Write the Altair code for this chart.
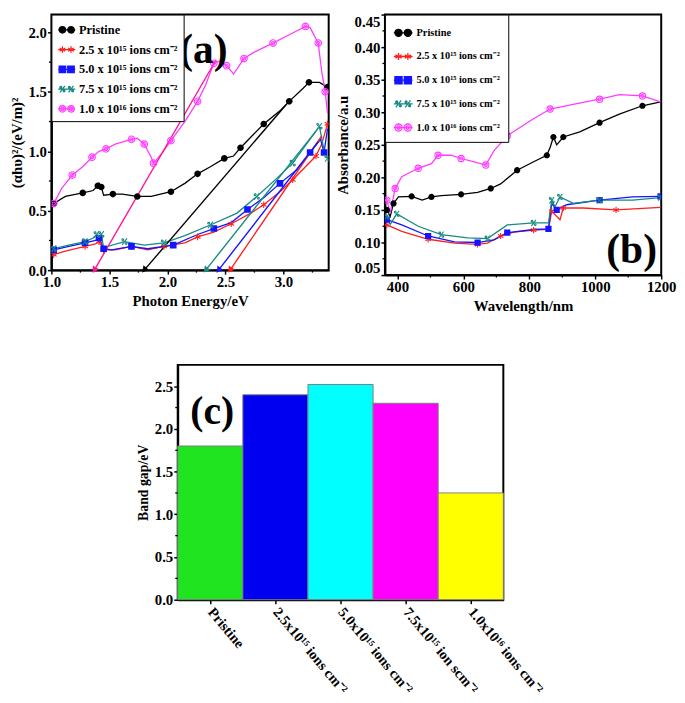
import math
import altair as alt
import pandas as pd

FONT = "Liberation Serif"

SERIES = ["Pristine", "2.5 x 10¹⁵ ions cm⁻²", "5.0 x 10¹⁵ ions cm⁻²",
          "7.5 x 10¹⁵ ions cm⁻²", "1.0 x 10¹⁶ ions cm⁻²"]
COLORS = ["#000000", "#ff1f1f", "#1414ff", "#178a82", "#ff3cff"]
FILLS = ["#000000", "#ff1f1f", "#1414ff", "#178a82", "transparent"]

# ---------------- panel (a): Tauc plot ----------------
a_pr_x = [1.02, 1.12, 1.27, 1.36, 1.40, 1.41, 1.43, 1.45, 1.53, 1.61, 1.74, 1.86, 2.03, 2.15,
          2.26, 2.37, 2.49, 2.57, 2.63, 2.72, 2.83, 2.97, 3.05, 3.17, 3.22, 3.31, 3.38]
a_pr_y = [0.56, 0.62, 0.65, 0.67, 0.71, 0.73, 0.70, 0.63, 0.64, 0.64, 0.62, 0.62, 0.66, 0.73,
          0.81, 0.87, 0.94, 0.96, 1.03, 1.12, 1.23, 1.34, 1.42, 1.53, 1.58, 1.58, 1.54]
a_r_x = [1.02, 1.12, 1.29, 1.38, 1.41, 1.43, 1.45, 1.55, 1.69, 1.83, 1.97, 2.15, 2.26, 2.40,
         2.55, 2.72, 2.83, 2.97, 3.08, 3.19, 3.28, 3.33, 3.38]
a_r_y = [0.13, 0.16, 0.20, 0.22, 0.24, 0.21, 0.17, 0.17, 0.20, 0.17, 0.20, 0.23, 0.28, 0.32,
         0.39, 0.48, 0.55, 0.66, 0.76, 0.87, 0.96, 1.06, 1.23]
a_b_x = [1.02, 1.15, 1.29, 1.38, 1.41, 1.43, 1.45, 1.52, 1.69, 1.83, 2.05, 2.26, 2.40, 2.55,
         2.69, 2.83, 2.97, 3.11, 3.23, 3.32, 3.35, 3.38]
a_b_y = [0.17, 0.20, 0.23, 0.25, 0.27, 0.23, 0.18, 0.17, 0.20, 0.18, 0.21, 0.30, 0.35, 0.40,
         0.51, 0.61, 0.73, 0.84, 0.99, 1.10, 0.99, 1.19]
a_t_x = [1.02, 1.15, 1.29, 1.36, 1.39, 1.41, 1.43, 1.45, 1.63, 1.80, 1.97, 2.15, 2.37, 2.60,
         2.77, 2.94, 3.08, 3.22, 3.31, 3.35, 3.38]
a_t_y = [0.18, 0.21, 0.24, 0.27, 0.30, 0.27, 0.30, 0.19, 0.24, 0.21, 0.23, 0.29, 0.38, 0.48,
         0.62, 0.77, 0.90, 1.09, 1.21, 1.01, 0.94]
a_m_x = [1.02, 1.09, 1.18, 1.27, 1.35, 1.41, 1.47, 1.55, 1.69, 1.74, 1.80, 1.86, 1.88, 1.95,
         2.03, 2.15, 2.26, 2.33, 2.40, 2.45, 2.51, 2.57, 2.66, 2.74, 2.91, 3.05, 3.19, 3.23,
         3.30, 3.33, 3.36, 3.38]
a_m_y = [0.56, 0.69, 0.80, 0.87, 0.95, 1.00, 1.02, 1.06, 1.10, 1.11, 1.06, 0.95, 0.90, 0.98,
         1.09, 1.25, 1.42, 1.56, 1.74, 1.76, 1.72, 1.65, 1.78, 1.83, 1.91, 1.98, 2.05, 2.04,
         1.91, 1.67, 1.50, 1.32]

# tangent (extrapolation) lines: upper point and x-intercept
tan_top_x = [3.03, 3.33, 3.30, 3.28, 2.42]
tan_top_y = [1.40, 1.13, 1.08, 1.17, 1.77]
tan_int_x = [1.80, 2.54, 2.44, 2.33, 1.37]

a_major_x = [1.0, 1.5, 2.0, 2.5, 3.0]
a_major_y = [0.0, 0.5, 1.0, 1.5, 2.0]
a_minor_x = [1.25, 1.75, 2.25, 2.75, 3.25]
a_minor_y = [0.25, 0.75, 1.25, 1.75]

# ---------------- panel (b): absorbance ----------------
b_pr_x = [368, 378, 388, 403, 443, 475, 503, 533, 593, 643, 683, 713, 763, 813, 853, 863, 873,
          883, 903, 953, 1013, 1073, 1143, 1198]
b_pr_y = [0.150, 0.140, 0.160, 0.170, 0.171, 0.165, 0.170, 0.172, 0.174, 0.177, 0.183, 0.190,
          0.211, 0.224, 0.234, 0.246, 0.262, 0.250, 0.262, 0.270, 0.284, 0.297, 0.310, 0.316]
b_r_x = [368, 413, 493, 573, 643, 673, 713, 753, 813, 858, 868, 893, 903, 963, 1063, 1198]
b_r_y = [0.127, 0.117, 0.105, 0.099, 0.097, 0.099, 0.110, 0.116, 0.119, 0.120, 0.148, 0.135,
         0.153, 0.153, 0.150, 0.154]
b_b_x = [368, 413, 493, 573, 643, 693, 733, 813, 858, 868, 883, 913, 1013, 1113, 1198]
b_b_y = [0.135, 0.127, 0.110, 0.101, 0.100, 0.104, 0.115, 0.120, 0.121, 0.160, 0.150, 0.158,
         0.165, 0.170, 0.171]
b_t_x = [368, 378, 398, 463, 533, 613, 673, 733, 813, 858, 868, 878, 893, 933, 1013, 1113, 1198]
b_t_y = [0.140, 0.128, 0.144, 0.125, 0.112, 0.107, 0.106, 0.127, 0.130, 0.130, 0.165, 0.155,
         0.170, 0.160, 0.165, 0.165, 0.169]
b_m_x = [368, 378, 393, 413, 463, 503, 523, 563, 593, 633, 668, 693, 733, 803, 863, 933, 1013,
         1073, 1143, 1198]
b_m_y = [0.165, 0.145, 0.183, 0.201, 0.214, 0.221, 0.234, 0.234, 0.229, 0.224, 0.219, 0.241,
         0.264, 0.287, 0.305, 0.312, 0.320, 0.327, 0.325, 0.316]

b_major_x = [400, 600, 800, 1000, 1200]
b_major_y = [0.05, 0.10, 0.15, 0.20, 0.25, 0.30, 0.35, 0.40, 0.45]
b_minor_x = [500, 700, 900, 1100]
b_minor_y = [0.075, 0.125, 0.175, 0.225, 0.275, 0.325, 0.375, 0.425]

# ---------------- panel (c): band gaps ----------------
c_labels = ["Pristine", "2.5x10¹⁵ ions cm⁻²", "5.0x10¹⁵ ions cm⁻²",
            "7.5x10¹⁵ ion scm⁻²", "1.0x10¹⁶ ions cm⁻²"]
c_values = [1.80, 2.40, 2.52, 2.30, 1.25]
c_colors = ["#1fe41f", "#0000f0", "#00ffff", "#ff00ff", "#ffff00"]
c_major_y = [0.0, 0.5, 1.0, 1.5, 2.0, 2.5]
c_minor_y = [0.25, 0.75, 1.25, 1.75, 2.25]


# ---------------- marker shapes ----------------
def circ(cx, cy, r):
    return (f"M{cx - r:.3f},{cy:.3f}a{r:.3f},{r:.3f} 0 1,0 {2 * r:.3f},0"
            f"a{r:.3f},{r:.3f} 0 1,0 {-2 * r:.3f},0")


def m_circle(cx, r):
    return circ(cx, 0, r)


def m_star(cx, r):
    return (f"M{cx:.3f},{-r:.3f}L{cx:.3f},{r:.3f}"
            f"M{cx - 0.87 * r:.3f},{-0.5 * r:.3f}L{cx + 0.87 * r:.3f},{0.5 * r:.3f}"
            f"M{cx - 0.87 * r:.3f},{0.5 * r:.3f}L{cx + 0.87 * r:.3f},{-0.5 * r:.3f}")


def m_square(cx, r):
    return f"M{cx - r:.3f},{-r:.3f}h{2 * r:.3f}v{2 * r:.3f}h{-2 * r:.3f}Z"


def m_pct(cx, r):
    return (f"M{cx + 0.75 * r:.3f},{-r:.3f}L{cx - 0.75 * r:.3f},{r:.3f}"
            + circ(cx - 0.5 * r, -0.55 * r, 0.28 * r) + circ(cx + 0.5 * r, 0.55 * r, 0.28 * r))


def m_dcirc(cx, r):
    return circ(cx, 0, r) + circ(cx, 0, 0.5 * r)


MARKERS = [m_circle, m_star, m_square, m_pct, m_dcirc]
MK_FILLED = [True, False, True, False, False]
LEG_PATHS = ["M-1,0L1,0" + f(-0.5, 0.38) + f(0.5, 0.38) for f in MARKERS]
MINOR_LEN = 2.5


def curves_df(xs_list, ys_list):
    rows = []
    for s, xs, ys in zip(SERIES, xs_list, ys_list):
        for i, (x, y) in enumerate(zip(xs, ys)):
            rows.append({"series": s, "x": x, "y": y, "idx": i})
    return pd.DataFrame(rows)


def minor_layers(xvals, yvals, X, Y, H):
    out = []
    if xvals:
        out.append(alt.Chart(pd.DataFrame({"x": xvals})).mark_rule(
            color="black", strokeWidth=1.3).encode(
            x=X(), y=alt.value(H), y2=alt.value(H + MINOR_LEN)))
    if yvals:
        out.append(alt.Chart(pd.DataFrame({"y": yvals})).mark_rule(
            color="black", strokeWidth=1.3).encode(
            y=Y(), x=alt.value(0), x2=alt.value(-MINOR_LEN)))
    return out


def build_panel(df, xdom, ydom, W, H, xaxis, yaxis, legend, tag, tag_pos, tag_size,
                minors, tangents=None, mk_size=45):
    xs = alt.Scale(domain=xdom, nice=False, zero=False)
    ys = alt.Scale(domain=ydom, nice=False, zero=False)

    def X():
        return alt.X("x:Q", scale=xs, axis=xaxis)

    def Y():
        return alt.Y("y:Q", scale=ys, axis=yaxis)

    layers = []
    for k, s in enumerate(SERIES):
        sub = alt.Chart(df).transform_filter(alt.datum.series == s)
        layers.append(sub.mark_line(color=COLORS[k], strokeWidth=1.3, clip=True).encode(
            x=X(), y=Y(), order="idx:Q"))
    if tangents is not None:
        kx = W / (xdom[1] - xdom[0])
        ky = H / (ydom[1] - ydom[0])
        trows, hrows = [], []
        for k, s in enumerate(SERIES):
            xt, yt, xi = tangents[0][k], tangents[1][k], tangents[2][k]
            trows.append({"series": s, "x": xt, "y": yt, "o": 0})
            trows.append({"series": s, "x": xi, "y": 0.0, "o": 1})
            dx = (xi - xt) * kx
            dy = yt * ky
            ang = math.degrees(math.atan2(dx, -dy)) % 360
            hrows.append({"series": s, "x": xi, "y": 0.0, "ang": ang})
        tdf = pd.DataFrame(trows)
        hdf = pd.DataFrame(hrows)
        tcol = ["#000000", "#ff1f1f", "#1414ff", "#178a82", "#ff1493"]
        for k, s in enumerate(SERIES):
            layers.append(alt.Chart(tdf).transform_filter(alt.datum.series == s)
                          .mark_line(color=tcol[k], strokeWidth=1.4).encode(
                x=X(), y=Y(), order="o:Q"))
            layers.append(alt.Chart(hdf).transform_filter(alt.datum.series == s)
                          .mark_point(shape="triangle-up", filled=True, color=tcol[k], size=55,
                                      opacity=1).encode(
                x=X(), y=Y(), angle=alt.Angle("ang:Q", scale=None)))
    for k, s in enumerate(SERIES):
        sub = alt.Chart(df).transform_filter(
            (alt.datum.series == s) & (alt.datum.idx % 2 == 0))
        layers.append(sub.mark_point(shape=MARKERS[k](0, 1), filled=MK_FILLED[k],
                                     color=COLORS[k], size=mk_size, strokeWidth=1.1,
                                     opacity=1, clip=True).encode(x=X(), y=Y()))
    layers += minor_layers(minors[0], minors[1], X, Y, H)
    # legend carrier (no rows drawn; legend from explicit scale domains)
    leg = alt.Chart(df).transform_filter("false").mark_point(
        filled=True, strokeWidth=1.3, size=legend["size"], opacity=1).encode(
        x=X(), y=Y(),
        shape=alt.Shape("series:N", scale=alt.Scale(domain=SERIES, range=LEG_PATHS),
                        legend=legend["obj"]),
        stroke=alt.Stroke("series:N", scale=alt.Scale(domain=SERIES, range=COLORS),
                          legend=legend["obj"]),
        fill=alt.Fill("series:N", scale=alt.Scale(domain=SERIES, range=FILLS),
                      legend=legend["obj"]))
    layers.append(leg)
    txt = alt.Chart(pd.DataFrame({"t": [tag]})).mark_text(
        font=FONT, fontWeight="bold", fontSize=tag_size, color="black",
        align="center", baseline="middle").encode(
        text="t:N", x=alt.value(tag_pos[0]), y=alt.value(tag_pos[1]))
    layers.append(txt)
    return alt.layer(*layers).properties(width=W, height=H)


def mk_legend(font_size, row_pad, size, pad):
    return {"size": size, "obj": alt.Legend(
        title=None, orient="top-left", offset=0, padding=pad, strokeColor="black",
        fillColor="white", labelFont=FONT, labelFontWeight="bold", labelFontSize=font_size,
        labelColor="black", rowPadding=row_pad, labelOffset=3, symbolStrokeWidth=1.3,
        symbolOpacity=1, symbolSize=size)}


df_a = curves_df([a_pr_x, a_r_x, a_b_x, a_t_x, a_m_x], [a_pr_y, a_r_y, a_b_y, a_t_y, a_m_y])
df_b = curves_df([b_pr_x, b_r_x, b_b_x, b_t_x, b_m_x], [b_pr_y, b_r_y, b_b_y, b_t_y, b_m_y])

pa = build_panel(
    df_a, [1.0, 3.39], [0.0, 2.15], 281, 259,
    alt.Axis(title="Photon Energy/eV", values=a_major_x, format=".1f"),
    alt.Axis(title="(αhυ)²/(eV/m)²", values=a_major_y, format=".1f"),
    mk_legend(12.5, 4, 300, 6), "(a)", (154, 36), 42, (a_minor_x, a_minor_y),
    tangents=(tan_top_x, tan_top_y, tan_int_x))

pb = build_panel(
    df_b, [362, 1200], [0.05, 0.45], 280, 264,
    alt.Axis(title="Wavelength/nm", values=b_major_x, format="d"),
    alt.Axis(title="Absorbance/a.u", values=b_major_y, format=".2f", labelOverlap=False,
             labelSeparation=0, labelFlush=True),
    mk_legend(10.5, 7, 360, 8), "(b)", (250, 239), 42, (b_minor_x, b_minor_y), mk_size=40)

df_c = pd.DataFrame({"label": c_labels, "gap": c_values, "color": c_colors})
c_yaxis = alt.Axis(title="Band gap/eV", values=c_major_y, format=".1f", titleFontSize=14)
c_ys = alt.Scale(domain=[0, 2.75], nice=False)
pc_bars = alt.Chart(df_c).mark_bar(stroke="#808080", strokeWidth=1).encode(
    x=alt.X("label:N", sort=c_labels, scale=alt.Scale(paddingInner=0, paddingOuter=0),
            axis=alt.Axis(title=None, labelAngle=50, labelAlign="left", labelBaseline="middle",
                          labelFontSize=14.5, labelPadding=6, tickSize=4)),
    y=alt.Y("gap:Q", scale=c_ys, axis=c_yaxis),
    color=alt.Color("color:N", scale=None),
)
pc_minor = alt.Chart(pd.DataFrame({"gap": c_minor_y})).mark_rule(
    color="black", strokeWidth=1.3).encode(
    y=alt.Y("gap:Q", scale=c_ys, axis=c_yaxis), x=alt.value(0), x2=alt.value(-MINOR_LEN))
pc_tag = alt.Chart(pd.DataFrame({"t": ["(c)"]})).mark_text(
    font=FONT, fontWeight="bold", fontSize=40, color="black", align="center",
    baseline="middle").encode(text="t:N", x=alt.value(35), y=alt.value(48))
pc = alt.layer(pc_bars, pc_minor, pc_tag).properties(width=330, height=238)

spacer = alt.Chart(pd.DataFrame({"v": [0]})).mark_point(opacity=0).encode(
    x=alt.X("v:Q", axis=None), y=alt.Y("v:Q", axis=None)
).properties(width=128, height=10, view=alt.ViewBackground(stroke="transparent"))

row1 = alt.hconcat(pa, pb, spacing=57, bounds="flush").resolve_scale(
    shape="independent", stroke="independent", fill="independent"
).resolve_legend(shape="independent", stroke="independent", fill="independent")
row2 = alt.hconcat(spacer, pc, spacing=0, bounds="flush")

chart = alt.vconcat(row1, row2, spacing=50).properties(
    padding={"left": 0, "top": 0, "right": 0, "bottom": 0}
).configure_view(stroke="black", strokeWidth=2).configure_axis(
    labelFont=FONT, labelFontWeight="bold", labelFontSize=15, labelColor="black",
    titleFont=FONT, titleFontWeight="bold", titleFontSize=15, titleColor="black",
    domainColor="black", domainWidth=2, tickColor="black", tickWidth=1.5, tickSize=4,
    labelPadding=1, titlePadding=4, grid=False, labelFlush=False, labelOverlap=False,
)

chart.save("out.html", embed_options={"renderer": "svg", "actions": False})
